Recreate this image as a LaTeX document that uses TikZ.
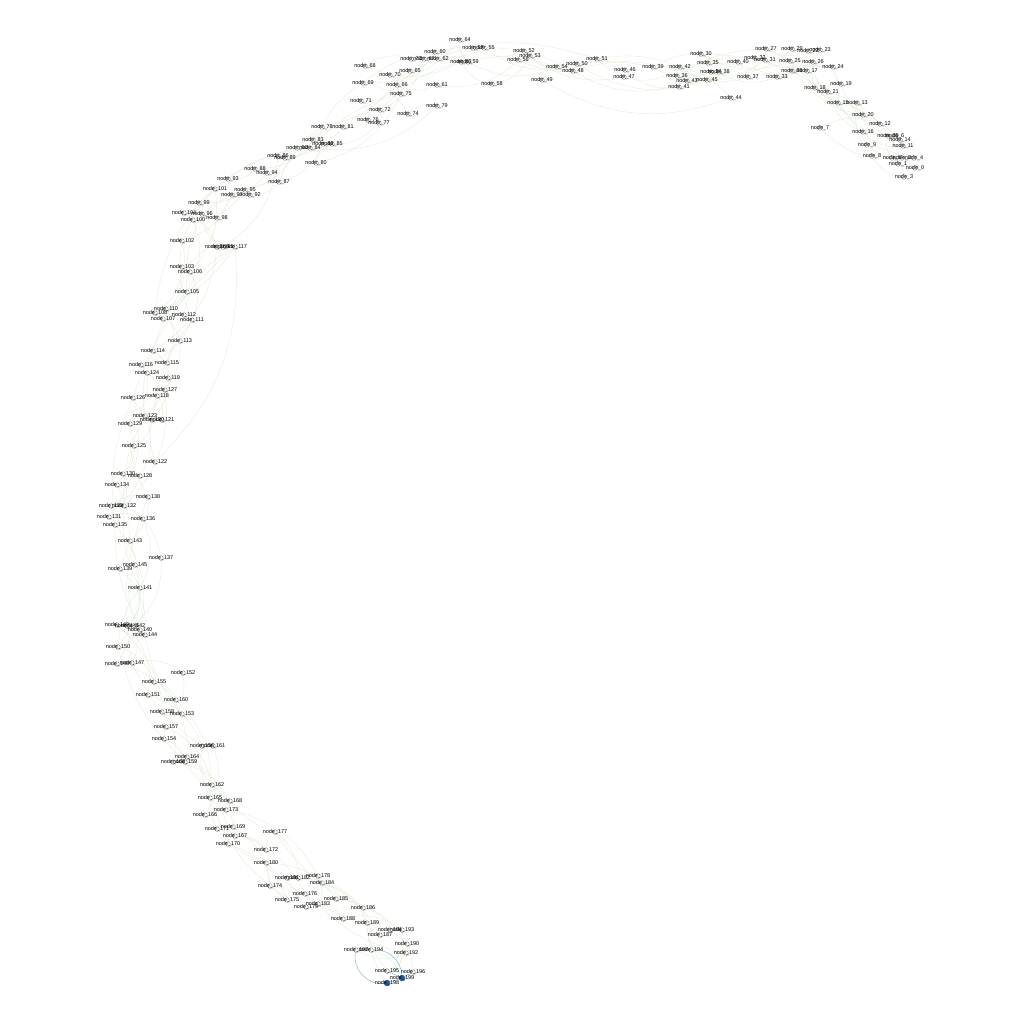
\documentclass[tikz,border=0pt]{standalone}
\usepackage{fontspec}
\setmainfont{Liberation Sans}
\definecolor{faintgreen}{RGB}{222,237,210}
\definecolor{linkblue}{RGB}{140,185,222}
\definecolor{dotblue}{RGB}{30,95,160}

\begin{document}
\begin{tikzpicture}[x=1pt,y=-1pt,
  dot/.style={circle,draw=black!60,fill=white,line width=0.35pt,minimum size=4.6pt,inner sep=0pt},
  hot/.style={dot,draw=dotblue,fill=dotblue,minimum size=6pt},
  lbl/.style={font=\fontsize{5.5}{6}\selectfont,inner sep=0pt,text=black},
  faint/.style={faintgreen,line width=0.3pt},
  blueline/.style={linkblue,line width=0.5pt}]
\useasboundingbox[fill=white] (0,0) rectangle (1024,1024);
% node positions (pixels of the layout)
\foreach \i/\x/\y in {0/915/168,1/898/164,2/902/158,3/904/177,4/914/158,5/892/158,6/895/136,7/820/128,8/872/156,9/867/145,
  10/888/136,11/903/146,12/880/124,13/857/103,14/900/140,15/838/103,16/863/132,17/807/71,18/815/88,19/841/84,
  20/863/115,21/828/92,22/808/51,23/820/50,24/833/67,25/790/61,26/813/62,27/766/49,28/792/71,29/792/49,
  30/701/54,31/765/60,32/755/58,33/777/77,34/711/72,35/708/63,36/677/76,37/748/77,38/719/72,39/653/67,
  40/738/62,41/679/87,42/680/67,43/687/81,44/731/98,45/707/80,46/625/70,47/624/77,48/573/71,49/542/80,
  50/577/64,51/597/59,52/524/51,53/530/56,54/557/67,55/484/48,56/518/60,57/473/48,58/492/84,59/468/62,
  60/435/52,61/437/85,62/438/59,63/461/62,64/460/40,65/410/71,66/397/85,67/424/59,68/365/66,69/363/83,
  70/390/75,71/361/101,72/380/110,73/411/59,74/408/114,75/401/94,76/368/120,77/379/123,78/322/127,79/437/106,
  80/316/163,81/343/127,82/323/144,83/313/140,84/310/148,85/332/144,86/278/156,87/279/182,88/255/169,89/285/158,
  90/297/148,91/223/247,92/250/195,93/228/179,94/267/173,95/245/190,96/202/214,97/232/195,98/217/218,99/199/203,
  100/193/220,101/215/189,102/182/241,103/182/267,104/184/213,105/187/292,106/190/272,107/163/319,108/155/313,109/217/247,
  110/166/309,111/192/320,112/184/315,113/180/341,114/153/351,115/167/363,116/141/365,117/235/247,118/157/396,119/168/378,
  120/152/420,121/162/420,122/155/462,123/145/416,124/147/373,125/134/446,126/133/398,127/165/390,128/140/476,129/130/424,
  130/123/474,131/109/517,132/124/506,133/111/506,134/117/485,135/115/525,136/143/519,137/161/558,138/148/497,139/120/569,
  140/140/630,141/140/588,142/133/626,143/130/541,144/145/635,145/135/565,146/127/626,147/132/663,148/117/664,149/117/625,
  150/118/647,151/148/695,152/183/673,153/182/714,154/164/739,155/154/682,156/202/746,157/166/727,158/162/712,159/185/762,
  160/176/700,161/213/746,162/212/785,163/173/762,164/187/757,165/210/798,166/205/815,167/235/836,168/230/801,169/233/827,
  170/228/844,171/217/829,172/266/850,173/226/810,174/270/886,175/287/900,176/305/894,177/275/832,178/318/876,179/306/907,
  180/266/863,181/287/878,182/298/878,183/318/904,184/322/883,185/336/899,186/363/908,187/380/935,188/343/919,189/367/923,
  190/407/944,191/390/930,192/406/953,193/402/930,194/371/950,195/387/971,196/413/972,197/356/950,198/387/983,199/402/978}
  \coordinate (p\i) at (\x,\y);
% vertices
\foreach \i in {0,...,197} \node[dot] (n\i) at (p\i) {};
\node[hot] (n198) at (p198) {};
\node[hot] (n199) at (p199) {};
% faint links
\foreach \i in {0,...,194} {
  \pgfmathtruncatemacro\j{\i+5}
  \draw[faint] (n\i) to[bend left=25] (n\j);
}
\foreach \i in {0,3,...,189} {
  \pgfmathtruncatemacro\j{\i+9}
  \draw[faint] (n\i) to[bend right=15] (n\j);
}
% the blue links
\draw[blueline] (n197) to[bend right=55] (n198);
\draw[blueline] (n194) to[bend left=45] (n199);
\draw[blueline] (n195) -- (n199);
\draw[blueline] (n198) -- (n199);
\draw[blueline] (n199) -- (n196);
% labels
\foreach \i in {0,...,199} \node[lbl] (l\i) at (p\i) {node\_\i};
\end{tikzpicture}
\end{document}
